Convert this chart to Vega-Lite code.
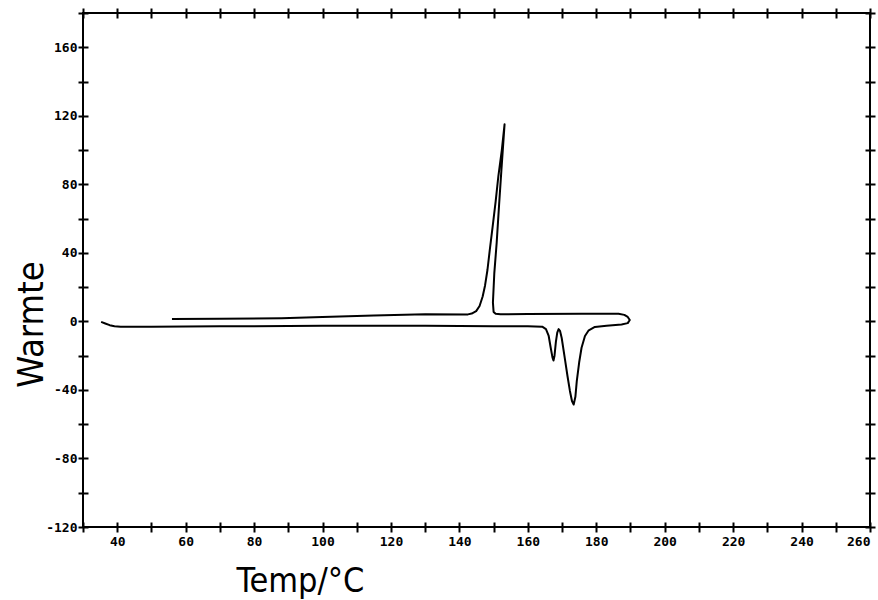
{
  "$schema": "https://vega.github.io/schema/vega-lite/v6.json",
  "width": 787,
  "height": 514,
  "autosize": {"type": "none"},
  "padding": {"left": 83, "top": 13, "right": 8, "bottom": 73},
  "background": "white",
  "config": {
    "view": {"stroke": "black", "strokeWidth": 2},
    "axis": {
      "grid": false,
      "domain": false,
      "tickColor": "black",
      "tickWidth": 2,
      "tickSize": 10,
      "offset": -5,
      "labelFont": "DejaVu Sans Mono",
      "labelFontWeight": "bold",
      "labelFontSize": 13,
      "labelColor": "black",
      "titleColor": "black",
      "titleFont": "DejaVu Sans Condensed, DejaVu Sans",
      "titleFontWeight": "normal"
    }
  },
  "data": {
    "values": [
      {"i": 1, "temp": 35.3, "w": -0.3},
      {"i": 2, "temp": 36.5, "w": -1.2},
      {"i": 3, "temp": 37.8, "w": -2.2},
      {"i": 4, "temp": 39.2, "w": -2.8},
      {"i": 5, "temp": 41.0, "w": -3.1},
      {"i": 6, "temp": 50.0, "w": -3.1},
      {"i": 7, "temp": 70.0, "w": -2.9},
      {"i": 8, "temp": 100.0, "w": -2.6},
      {"i": 9, "temp": 130.0, "w": -2.6},
      {"i": 10, "temp": 150.0, "w": -2.8},
      {"i": 11, "temp": 160.0, "w": -2.9},
      {"i": 12, "temp": 164.2, "w": -3.1},
      {"i": 13, "temp": 165.3, "w": -4.5},
      {"i": 14, "temp": 166.1, "w": -8.5},
      {"i": 15, "temp": 166.7, "w": -15.5},
      {"i": 16, "temp": 167.2, "w": -21.0},
      {"i": 17, "temp": 167.5, "w": -22.8},
      {"i": 18, "temp": 167.8, "w": -20.0},
      {"i": 19, "temp": 168.2, "w": -12.0},
      {"i": 20, "temp": 168.6, "w": -6.5},
      {"i": 21, "temp": 169.0, "w": -4.5},
      {"i": 22, "temp": 169.4, "w": -5.5},
      {"i": 23, "temp": 169.9, "w": -9.7},
      {"i": 24, "temp": 170.8, "w": -21.4},
      {"i": 25, "temp": 171.6, "w": -32.0},
      {"i": 26, "temp": 172.3, "w": -40.6},
      {"i": 27, "temp": 172.9, "w": -46.5},
      {"i": 28, "temp": 173.4, "w": -48.5},
      {"i": 29, "temp": 173.9, "w": -44.0},
      {"i": 30, "temp": 174.3, "w": -35.0},
      {"i": 31, "temp": 175.0, "w": -24.0},
      {"i": 32, "temp": 175.7, "w": -15.4},
      {"i": 33, "temp": 176.7, "w": -8.5},
      {"i": 34, "temp": 177.8, "w": -5.2},
      {"i": 35, "temp": 179.6, "w": -3.2},
      {"i": 36, "temp": 183.0, "w": -2.5},
      {"i": 37, "temp": 187.4, "w": -1.8},
      {"i": 38, "temp": 189.2, "w": -1.0},
      {"i": 39, "temp": 189.8, "w": 0.8},
      {"i": 40, "temp": 189.2, "w": 2.6},
      {"i": 41, "temp": 188.2, "w": 3.8},
      {"i": 42, "temp": 186.5, "w": 4.5},
      {"i": 43, "temp": 175.7, "w": 4.5},
      {"i": 44, "temp": 160.0, "w": 4.3},
      {"i": 45, "temp": 152.0, "w": 4.2},
      {"i": 46, "temp": 150.6, "w": 4.4},
      {"i": 47, "temp": 150.0, "w": 5.5},
      {"i": 48, "temp": 149.8, "w": 11.0},
      {"i": 49, "temp": 150.2, "w": 28.0},
      {"i": 50, "temp": 150.9, "w": 46.0},
      {"i": 51, "temp": 151.6, "w": 68.0},
      {"i": 52, "temp": 152.3, "w": 89.0},
      {"i": 53, "temp": 153.2, "w": 115.0},
      {"i": 54, "temp": 152.4, "w": 100.0},
      {"i": 55, "temp": 151.4, "w": 85.0},
      {"i": 56, "temp": 150.6, "w": 70.0},
      {"i": 57, "temp": 149.7, "w": 55.0},
      {"i": 58, "temp": 148.9, "w": 42.0},
      {"i": 59, "temp": 148.2, "w": 30.0},
      {"i": 60, "temp": 147.5, "w": 21.0},
      {"i": 61, "temp": 146.8, "w": 14.5},
      {"i": 62, "temp": 145.9, "w": 9.0},
      {"i": 63, "temp": 144.9, "w": 6.0},
      {"i": 64, "temp": 143.6, "w": 4.6},
      {"i": 65, "temp": 142.5, "w": 4.1},
      {"i": 66, "temp": 130.0, "w": 4.2},
      {"i": 67, "temp": 115.0, "w": 3.5},
      {"i": 68, "temp": 100.0, "w": 2.5},
      {"i": 69, "temp": 88.0, "w": 1.9},
      {"i": 70, "temp": 70.0, "w": 1.5},
      {"i": 71, "temp": 56.0, "w": 1.4}
    ]
  },
  "layer": [
    {
      "mark": {"type": "line", "color": "black", "strokeWidth": 2, "strokeJoin": "round"},
      "encoding": {
        "x": {
          "field": "temp", "type": "quantitative",
          "scale": {"domain": [30, 260], "nice": false, "zero": false},
          "axis": {
            "orient": "bottom",
            "values": [30, 40, 50, 60, 70, 80, 90, 100, 110, 120, 130, 140, 150, 160, 170, 180, 190, 200, 210, 220, 230, 240, 250, 260],
            "labelExpr": "(datum.value % 20 == 0 && datum.value >= 40) ? ('' + datum.value) : ''",
            "labelPadding": 3,
            "title": "Temp/°C",
            "titleFontSize": 34,
            "titleX": 217,
            "titleY": 69,
            "titleAlign": "center",
            "titleBaseline": "alphabetic",
            "titleAngle": 0
          }
        },
        "y": {
          "field": "w", "type": "quantitative",
          "scale": {"domain": [-120, 180], "nice": false, "zero": false},
          "axis": {
            "orient": "left",
            "values": [-120, -100, -80, -60, -40, -20, 0, 20, 40, 60, 80, 100, 120, 140, 160, 180],
            "labelExpr": "(datum.value % 40 == 0 && datum.value < 180) ? ('' + datum.value) : ''",
            "labelPadding": 1,
            "title": "Warmte",
            "titleFontSize": 36,
            "titleX": -46,
            "titleY": 311,
            "titleAngle": -90,
            "titleAlign": "center",
            "titleBaseline": "alphabetic"
          }
        },
        "order": {"field": "i", "type": "quantitative"}
      }
    },
    {
      "mark": {"type": "line", "opacity": 0},
      "encoding": {
        "x": {
          "field": "temp", "type": "quantitative",
          "axis": {
            "orient": "top",
            "values": [30, 40, 50, 60, 70, 80, 90, 100, 110, 120, 130, 140, 150, 160, 170, 180, 190, 200, 210, 220, 230, 240, 250, 260],
            "labels": false,
            "title": null
          }
        },
        "y": {
          "field": "w", "type": "quantitative",
          "axis": {
            "orient": "right",
            "values": [-120, -100, -80, -60, -40, -20, 0, 20, 40, 60, 80, 100, 120, 140, 160, 180],
            "labels": false,
            "title": null
          }
        },
        "order": {"field": "i", "type": "quantitative"}
      }
    }
  ],
  "resolve": {"axis": {"x": "independent", "y": "independent"}}
}
